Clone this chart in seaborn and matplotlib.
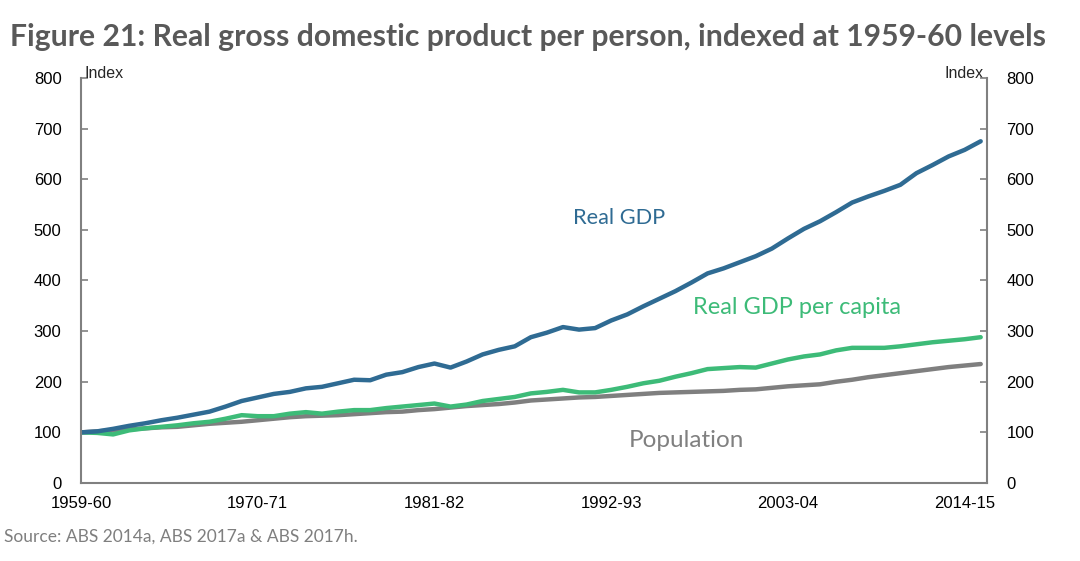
import pandas as pd
import matplotlib.pyplot as plt
import seaborn as sns

# Financial years, 1959-60 to 2015-16 (index 0 = 1959-60)
years = list(range(57))
tick_years = [0, 11, 22, 33, 44, 55]
tick_labels = ['1959-60', '1970-71', '1981-82', '1992-93', '2003-04', '2014-15']

real_gdp = [100, 102, 107, 113, 118, 124, 129, 135, 141, 151,
            162, 169, 176, 180, 187, 190, 197, 204, 203, 214,
            219, 229, 236, 228, 240, 254, 263, 270, 288, 297,
            308, 303, 306, 321, 333, 349, 364, 379, 396, 414,
            424, 436, 448, 463, 483, 502, 517, 535, 554, 566,
            577, 589, 612, 628, 645, 658, 675]
gdp_per_capita = [100, 99, 96, 104, 108, 111, 114, 118, 121, 127,
                  134, 132, 132, 137, 140, 137, 141, 144, 144, 148,
                  151, 154, 157, 151, 155, 162, 166, 170, 177, 180,
                  184, 179, 179, 184, 190, 197, 202, 210, 217, 225,
                  227, 229, 228, 236, 244, 250, 254, 262, 267, 267,
                  267, 270, 274, 278, 281, 284, 288]
population = [100, 102, 104, 106, 108, 110, 111, 114, 117, 119,
              121, 124, 127, 130, 132, 133, 134, 136, 138, 140,
              141, 144, 146, 149, 152, 154, 156, 159, 163, 165,
              167, 169, 170, 172, 174, 176, 178, 179, 180, 181,
              182, 184, 185, 188, 191, 193, 195, 200, 204, 209,
              213, 217, 221, 225, 229, 232, 235]

series_names = ['Population', 'Real GDP per capita', 'Real GDP']
colours = {'Real GDP': '#2f6b93', 'Real GDP per capita': '#3dbb78', 'Population': '#7f7f7f'}


def main():
    df = pd.concat([
        pd.DataFrame({'year': years, 'value': population, 'series': 'Population'}),
        pd.DataFrame({'year': years, 'value': gdp_per_capita, 'series': 'Real GDP per capita'}),
        pd.DataFrame({'year': years, 'value': real_gdp, 'series': 'Real GDP'}),
    ])

    sns.set_theme(style="white")
    plt.rcParams['font.family'] = ['Liberation Sans', 'DejaVu Sans']

    fig = plt.figure(figsize=(10.8, 5.61), dpi=100)
    ax = fig.add_axes([0.075, 0.139, 0.839, 0.722])

    sns.lineplot(data=df, x='year', y='value', hue='series', hue_order=series_names,
                 palette=colours, linewidth=3.2, legend=False, ax=ax)

    ax.set_xlim(0, 56.4)
    ax.set_ylim(0, 800)
    ax.set_xticks(tick_years)
    ax.set_xticklabels(tick_labels)
    ax.set_yticks(range(0, 801, 100))
    ax.set_xlabel('')
    ax.set_ylabel('')

    axis_grey = '#808080'
    for side in ['left', 'bottom', 'right']:
        ax.spines[side].set_color(axis_grey)
        ax.spines[side].set_linewidth(1.5)
    ax.spines['top'].set_visible(False)
    ax.tick_params(axis='both', direction='in', length=5, width=1.2, color=axis_grey,
                   labelsize=12, labelcolor='black')
    ax.tick_params(axis='x', pad=9)
    ax.tick_params(axis='y', pad=14)

    ax2 = ax.twinx()
    ax2.set_ylim(0, 800)
    ax2.set_yticks(range(0, 801, 100))
    for side in ['left', 'bottom', 'right', 'top']:
        ax2.spines[side].set_visible(False)
    ax2.tick_params(axis='y', direction='in', length=5, width=1.2, color=axis_grey,
                    labelsize=12, labelcolor='black', pad=14)
    ax2.grid(False)

    ax.text(0.004, 1.01, 'Index', transform=ax.transAxes, fontsize=11.5, ha='left', va='center')
    ax.text(0.996, 1.01, 'Index', transform=ax.transAxes, fontsize=11.5, ha='right', va='center')

    label_font = ['Lato', 'DejaVu Sans']
    ax.text(30.6, 523, 'Real GDP', color='#2f6b93', fontsize=15.7, family=label_font, ha='left', va='center')
    ax.text(38.1, 346, 'Real GDP per capita', color='#3dbb78', fontsize=17, family=label_font, ha='left', va='center')
    ax.text(34.1, 84, 'Population', color='#808080', fontsize=17.5, family=label_font, ha='left', va='center')

    fig.text(0.009, 0.934, 'Figure 21: Real gross domestic product per person, indexed at 1959-60 levels',
             fontsize=21.7, fontweight='bold', color='#595959', family=['Lato', 'DejaVu Sans'],
             ha='left', va='center')
    fig.text(0.004, 0.043, 'Source: ABS 2014a, ABS 2017a & ABS 2017h.', fontsize=12.5,
             color='#7f7f7f', family=['Lato', 'DejaVu Sans'], ha='left', va='center')

    fig.savefig('out.png', dpi=100)
    plt.close(fig)


if __name__ == '__main__':
    main()
